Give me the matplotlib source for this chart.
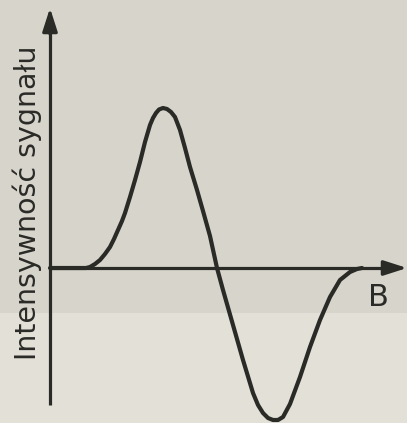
import matplotlib
matplotlib.use("Agg")
import matplotlib.pyplot as plt
from matplotlib.patches import Rectangle

# signal: field B (arbitrary units) and signal intensity
field_b = [0, 36, 40, 45, 50, 55, 60, 64, 68, 72, 75, 80, 85, 90, 95, 100,
           103, 106, 109, 113, 117, 121, 125, 130, 135, 140, 147, 153, 160,
           167, 173, 183, 193, 203, 208, 213, 218, 223, 228, 233, 240, 250,
           260, 270, 280, 290, 300, 307, 312]
intensity = [0, 0, 1, 4, 8, 14, 21, 29, 38, 47, 55, 71, 88, 106, 126, 143,
             150, 155, 158.5, 160, 159, 156, 151, 138, 120, 101, 78, 57, 32,
             0, -22, -57, -92, -125, -137, -145, -150, -152, -152, -149,
             -136, -109, -79, -52, -29, -12, -4, -1, 0]

x_label = "B"
y_label = "Intensywność sygnału"

ink = "#2a2a26"

fig = plt.figure(figsize=(4.07, 4.23), dpi=100)
fig.patch.set_facecolor("#d7d4cc")
ax = fig.add_axes([0, 0, 1, 1])
ax.set_xlim(-50, 357)
ax.set_ylim(-155, 268)
ax.axis("off")

# lighter paper band at the bottom of the scan
ax.add_patch(Rectangle((0, 0), 1, 0.26, transform=ax.transAxes,
                       facecolor="#e3e0d8", edgecolor="none", zorder=0))

# axes with arrow heads
ax.plot([0, 0], [-137, 240], color=ink, lw=2.3, solid_capstyle="butt", zorder=2)
ax.plot([0, 340], [0, 0], color=ink, lw=2.3, solid_capstyle="butt", zorder=2)
ax.annotate("", xy=(0, 260), xytext=(0, 234),
            arrowprops=dict(arrowstyle="-|>,head_length=1.4,head_width=0.45",
                            color=ink, lw=2.3, shrinkA=0, shrinkB=0))
ax.annotate("", xy=(357, 0), xytext=(332, 0),
            arrowprops=dict(arrowstyle="-|>,head_length=1.4,head_width=0.45",
                            color=ink, lw=2.3, shrinkA=0, shrinkB=0))

ax.plot(field_b, intensity, color=ink, lw=3.0, solid_joinstyle="round",
        solid_capstyle="round", zorder=3)

ax.text(-23, 65, y_label, rotation=90, ha="center", va="center",
        fontsize=20.5, color=ink, family="DejaVu Sans")
ax.text(328, -29, x_label, ha="center", va="center", fontsize=22, color=ink,
        family="DejaVu Sans")

fig.savefig("out.png", dpi=100, facecolor=fig.get_facecolor())
